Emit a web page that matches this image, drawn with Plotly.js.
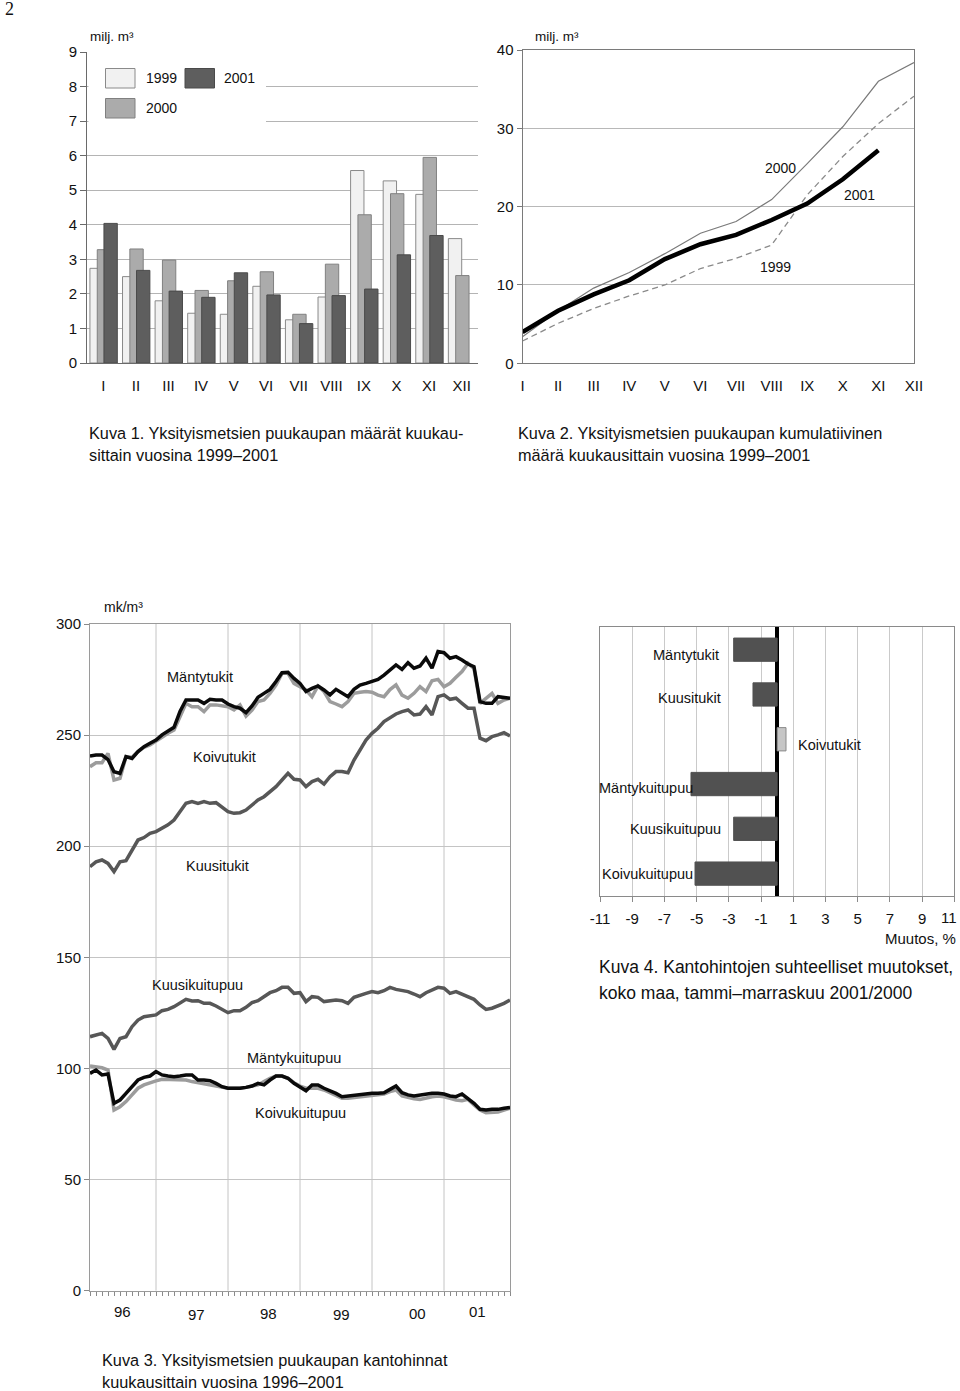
<!DOCTYPE html>
<html>
<head>
<meta charset="utf-8">
<script src="https://cdn.plot.ly/plotly-3.0.1.min.js"></script>
<style>html,body{margin:0;padding:0;background:#fff;}#chart{width:960px;height:1391px;}</style>
</head>
<body>
<div id="chart"></div>
<script>
// ---------- DATA ----------
// Kuva 1 / Kuva 2
const months = ['I','II','III','IV','V','VI','VII','VIII','IX','X','XI','XII'];
const vol1999 = [2.74, 2.50, 1.80, 1.44, 1.41, 2.22, 1.25, 1.91, 5.57, 5.27, 4.88, 3.60];
const vol2000 = [3.28, 3.30, 2.98, 2.10, 2.38, 2.64, 1.41, 2.86, 4.29, 4.90, 5.95, 2.53];
const vol2001 = [4.04, 2.68, 2.08, 1.90, 2.61, 1.97, 1.14, 1.95, 2.14, 3.13, 3.69];
const cum1999 = [2.85, 5.1, 7.0, 8.6, 10.0, 12.1, 13.4, 15.1, 21.5, 26.4, 30.6, 34.1];
const cum2000 = [3.4, 6.7, 9.6, 11.6, 14.0, 16.6, 18.1, 20.9, 25.5, 30.2, 36.0, 38.4];
const cum2001 = [4.0, 6.7, 8.8, 10.6, 13.3, 15.2, 16.4, 18.3, 20.4, 23.5, 27.2];

// Kuva 3 (monthly, 71 months)
const yearLabels = ['96','97','98','99','00','01'];
const yearStarts = [11, 23, 35, 47, 59];   // month index where a new year begins (grid lines)
const mantytukit = [240.6,241.0,241.0,239.0,233.5,232.8,240.3,239.5,242.6,244.8,246.3,247.8,250.1,251.6,253.5,260.6,265.8,265.8,265.8,264.3,266.1,265.8,265.8,264.0,262.8,262.1,260.1,263.1,267.0,268.8,270.6,274.1,278.1,278.3,275.5,273.3,269.6,271.0,272.1,270.3,268.1,270.6,268.8,267.3,270.6,272.5,273.3,274.1,275.1,277.0,279.3,281.6,279.6,282.6,280.1,281.1,284.6,280.1,287.6,287.1,284.6,285.3,283.8,282.0,280.8,265.1,264.3,264.3,267.3,267.0,266.6];
const koivutukit = [235.8,237.6,237.6,241.8,229.8,230.6,240.3,240.0,242.6,244.5,245.6,247.1,249.0,250.8,252.3,258.3,264.3,262.8,262.8,260.6,263.6,263.6,263.1,262.8,261.3,263.6,258.6,261.3,265.1,265.8,268.8,272.5,277.8,277.8,273.3,271.8,270.3,267.3,272.1,269.6,265.1,264.0,262.8,265.1,268.8,269.3,269.6,269.3,268.0,267.3,270.5,272.6,268.0,266.6,268.8,271.8,269.6,274.5,275.1,271.8,273.3,276.0,278.6,282.3,280.0,264.3,266.6,268.8,264.3,265.8,266.6];
const kuusitukit = [190.8,193.0,193.8,192.3,188.6,193.0,193.5,198.3,202.8,203.9,205.8,206.6,208.1,209.6,211.8,215.6,219.3,220.1,219.3,220.1,219.3,219.6,217.8,215.6,214.8,215.1,216.3,218.6,220.8,222.3,224.6,226.8,229.8,232.8,230.1,229.8,226.8,229.1,230.1,228.0,231.3,233.6,233.6,233.1,238.8,243.3,247.8,250.8,253.1,256.1,258.0,259.5,260.6,261.3,259.1,259.5,262.8,259.1,267.3,268.1,266.1,266.6,264.3,262.1,262.1,248.6,247.5,249.3,250.1,251.1,249.6];
const kuusikuitupuu = [114.3,115.1,115.8,113.5,108.6,113.5,114.3,118.8,121.8,123.3,123.8,124.1,126.0,126.6,127.8,129.3,131.1,130.4,130.5,129.3,129.3,128.1,126.6,125.1,126.0,126.0,127.5,129.6,130.5,132.3,134.1,135.0,136.5,136.5,133.8,134.1,130.1,132.3,132.0,130.1,130.5,130.8,130.5,129.3,132.0,133.1,133.8,134.6,134.1,135.0,136.5,135.6,135.0,134.6,133.5,132.3,134.1,135.3,136.5,136.1,133.8,134.6,133.5,132.3,131.1,128.6,126.6,127.1,128.1,129.3,130.8];
const mantykuitupuu = [97.8,99.3,97.1,97.5,84.3,85.8,88.8,91.8,94.8,96.0,96.6,98.6,97.1,96.6,96.3,96.6,97.1,97.1,94.8,94.8,94.5,93.3,91.8,91.1,91.1,91.1,91.5,92.1,93.3,92.6,94.8,96.6,96.6,95.6,93.3,91.5,90.0,92.6,92.6,91.1,90.0,88.8,87.3,87.6,88.1,88.4,88.5,88.8,88.8,89.1,90.6,92.1,89.1,88.1,87.6,88.1,88.5,88.8,88.8,88.5,87.6,87.3,88.5,86.6,84.3,81.6,81.3,81.6,81.6,82.1,82.5];
const koivukuitupuu = [101.1,100.8,100.3,99.3,81.3,82.8,85.1,88.1,91.1,92.6,93.6,94.4,95.1,95.1,94.8,94.8,94.8,94.1,93.6,93.0,92.6,92.1,91.5,91.1,91.1,91.1,91.5,92.1,92.6,94.1,95.6,96.6,96.6,95.6,93.6,92.1,91.1,91.1,91.1,90.3,89.1,87.6,86.6,86.6,86.9,87.3,87.6,87.6,88.1,88.5,89.6,90.3,87.6,86.9,86.4,86.1,86.9,87.3,87.6,87.3,86.6,85.8,85.5,86.1,83.6,81.3,80.1,80.1,80.4,81.3,82.1];

// Kuva 4
const assortments = ['Mäntytukit','Kuusitukit','Koivutukit','Mäntykuitupuu','Kuusikuitupuu','Koivukuitupuu'];
const changePct = [-2.7, -1.5, 0.55, -5.35, -2.7, -5.1];
const pctTicks = [-11, -9, -7, -5, -3, -1, 1, 3, 5, 7, 9, 11];

// ---------- HELPERS ----------
const W = 960, H = 1391;
const FONT = '"Liberation Sans", Arial, Helvetica, sans-serif';
const px = v => v / W;
const py = v => 1 - v / H;
function ann(text, x, y, xanchor, size, extra) {
  return Object.assign({
    text: text, x: px(x), y: py(y), xref: 'paper', yref: 'paper',
    xanchor: xanchor || 'left', yanchor: 'middle', showarrow: false,
    font: {family: FONT, size: size || 14.5, color: '#111'}
  }, extra || {});
}
const idx = arr => arr.map((_, i) => i);
const tickFont = {family: FONT, size: 15, color: '#111'};
const CAP = 16.3, CAP4 = 17.5, LAB = 14.5;

// ---------- TRACES ----------
const traces = [];
// Kuva 1 bars
traces.push({type: 'bar', x: idx(vol1999), y: vol1999, xaxis: 'x', yaxis: 'y', width: 0.41, offset: -0.41,
  marker: {color: '#f1f1f1', line: {color: '#8a8a8a', width: 1}}, hoverinfo: 'skip'});
traces.push({type: 'bar', x: idx(vol2000), y: vol2000, xaxis: 'x', yaxis: 'y', width: 0.41, offset: -0.185,
  marker: {color: '#ababab', line: {color: '#808080', width: 1}}, hoverinfo: 'skip'});
traces.push({type: 'bar', x: idx(vol2001), y: vol2001, xaxis: 'x', yaxis: 'y', width: 0.41, offset: 0.02,
  marker: {color: '#5e5e5e', line: {color: '#4a4a4a', width: 1}}, hoverinfo: 'skip'});

// Kuva 2 lines
traces.push({type: 'scatter', mode: 'lines', x: idx(cum2000), y: cum2000, xaxis: 'x2', yaxis: 'y2',
  line: {color: '#7a7a7a', width: 1.2}});
traces.push({type: 'scatter', mode: 'lines', x: idx(cum1999), y: cum1999, xaxis: 'x2', yaxis: 'y2',
  line: {color: '#8a8a8a', width: 1.3, dash: '6px,4px'}});
traces.push({type: 'scatter', mode: 'lines', x: idx(cum2001), y: cum2001, xaxis: 'x2', yaxis: 'y2',
  line: {color: '#000', width: 4.5}});

// Kuva 3 lines
const l3 = (data, color) => ({type: 'scatter', mode: 'lines', x: idx(data), y: data, xaxis: 'x3', yaxis: 'y3',
  line: {color: color, width: 3.5}});
traces.push(l3(koivutukit, '#9c9c9c'));
traces.push(l3(mantytukit, '#0a0a0a'));
traces.push(l3(kuusitukit, '#575757'));
traces.push(l3(koivukuitupuu, '#9c9c9c'));
traces.push(l3(mantykuitupuu, '#0a0a0a'));
traces.push(l3(kuusikuitupuu, '#575757'));

// Kuva 4 bars
traces.push({type: 'bar', orientation: 'h', y: assortments, x: changePct, xaxis: 'x4', yaxis: 'y4', width: 0.52,
  marker: {color: changePct.map(v => v >= 0 ? '#c6c6c6' : '#515151'),
           line: {color: changePct.map(v => v >= 0 ? '#8a8a8a' : '#515151'), width: 1}}, hoverinfo: 'skip'});

// ---------- LAYOUT ----------
const annotations = [
  ann('2', 3, 9, 'left', 18, {font: {family: '"Liberation Serif", serif', size: 18, color: '#111'}}),
  // Kuva 1
  ann('milj. m³', 88, 37, 'left', 13.5),
  ann('1999', 144, 78, 'left', 14),
  ann('2001', 222, 78, 'left', 14),
  ann('2000', 144, 108, 'left', 14),
  ann('Kuva 1. Yksityismetsien puukaupan määrät kuukau-', 87, 433, 'left', CAP),
  ann('sittain vuosina 1999–2001', 87, 455, 'left', CAP),
  // Kuva 2
  ann('milj. m³', 533, 37, 'left', 13.5),
  ann('2000', 780, 168, 'center', 14),
  ann('2001', 859, 195, 'center', 14),
  ann('1999', 775, 267, 'center', 14),
  ann('Kuva 2. Yksityismetsien puukaupan kumulatiivinen', 516, 433, 'left', CAP),
  ann('määrä kuukausittain vuosina 1999–2001', 516, 455, 'left', CAP),
  // Kuva 3
  ann('mk/m³', 102, 607, 'left', 14),
  ann('Mäntytukit', 200, 677, 'center', LAB),
  ann('Koivutukit', 224, 757, 'center', LAB),
  ann('Kuusitukit', 217, 866, 'center', LAB),
  ann('Kuusikuitupuu', 197, 985, 'center', LAB),
  ann('Mäntykuitupuu', 294, 1058, 'center', LAB),
  ann('Koivukuitupuu', 300, 1113, 'center', LAB),
  ann('Kuva 3. Yksityismetsien puukaupan kantohinnat', 100, 1360, 'left', CAP),
  ann('kuukausittain vuosina 1996–2001', 100, 1382, 'left', CAP),
  // Kuva 4
  ann('Mäntytukit', 721, 655, 'right', LAB),
  ann('Kuusitukit', 723, 698, 'right', LAB),
  ann('Koivutukit', 796, 745, 'left', LAB),
  ann('Mäntykuitupuu', 695, 788, 'right', LAB),
  ann('Kuusikuitupuu', 723, 829, 'right', LAB),
  ann('Koivukuitupuu', 695, 874, 'right', LAB),
  // last tick label of Kuva 4 sits at the page edge, so it is right-aligned to stay inside
  ann(String(pctTicks[pctTicks.length - 1]), 959, 917, 'right', 15),
  ann('Muutos, %', 958, 938, 'right', 15),
  ann('Kuva 4. Kantohintojen suhteelliset muutokset,', 597, 967, 'left', CAP4),
  ann('koko maa, tammi–marraskuu 2001/2000', 597, 993, 'left', CAP4)
];
// year labels for Kuva 3 (placed at mid-year positions)
const yearPos = [[123, 1311], [196, 1314], [268, 1313], [341, 1314], [417, 1313], [477, 1311]];
yearLabels.forEach((t, k) => annotations.push(ann(t, yearPos[k][0], yearPos[k][1], 'center', 15)));

const shapes = [
  // legend background for Kuva 1 (hides gridlines)
  {type: 'rect', xref: 'paper', yref: 'paper', x0: px(88.5), x1: px(266), y0: py(125), y1: py(57),
   fillcolor: '#fff', line: {width: 0}, layer: 'above'},
  {type: 'rect', xref: 'paper', yref: 'paper', x0: px(105.5), x1: px(135), y0: py(88), y1: py(68.5),
   fillcolor: '#f1f1f1', line: {color: '#8a8a8a', width: 1}, layer: 'above'},
  {type: 'rect', xref: 'paper', yref: 'paper', x0: px(185), x1: px(214.5), y0: py(88), y1: py(68.5),
   fillcolor: '#5e5e5e', line: {color: '#4a4a4a', width: 1}, layer: 'above'},
  {type: 'rect', xref: 'paper', yref: 'paper', x0: px(105.5), x1: px(135), y0: py(118), y1: py(98.5),
   fillcolor: '#ababab', line: {color: '#808080', width: 1}, layer: 'above'}
];
// year boundary grid lines of Kuva 3
yearStarts.forEach(m => shapes.push({type: 'line', xref: 'x3', yref: 'y3 domain', x0: m, x1: m, y0: 0, y1: 1,
  line: {color: '#c4c4c4', width: 1}, layer: 'below'}));

const layout = {
  width: W, height: H, margin: {l: 0, r: 0, t: 0, b: 0}, autosize: false,
  paper_bgcolor: '#fff', plot_bgcolor: 'rgba(0,0,0,0)', showlegend: false, barmode: 'overlay',
  font: {family: FONT, size: 15, color: '#111'},
  // Kuva 1
  xaxis: {anchor: 'y', domain: [px(87), px(478)], range: [-0.5, 11.5], tickmode: 'array', tickvals: idx(months), ticktext: months,
    showgrid: false, zeroline: false, showline: true, linecolor: '#6a6a6a', linewidth: 1, ticks: '',
    ticklabelstandoff: 9, tickfont: tickFont, fixedrange: true},
  yaxis: {anchor: 'x', domain: [py(363), py(52)], range: [0, 9], dtick: 1, tick0: 0, showgrid: true, gridcolor: '#b4b4b4',
    zeroline: false, showline: true, linecolor: '#6a6a6a', ticks: 'outside', ticklen: 6, tickcolor: '#6a6a6a',
    tickfont: tickFont, fixedrange: true},
  // Kuva 2
  xaxis2: {anchor: 'y2', domain: [px(522.5), px(914)], range: [0, 11], tickmode: 'array', tickvals: idx(months), ticktext: months,
    showgrid: false, zeroline: false, showline: true, mirror: true, linecolor: '#7a7a7a', ticks: '',
    ticklabelstandoff: 9, tickfont: tickFont, fixedrange: true},
  yaxis2: {anchor: 'x2', domain: [py(363.3), py(50)], range: [0, 40], dtick: 10, tick0: 0, showgrid: true, gridcolor: '#b8b8b8',
    zeroline: false, showline: true, mirror: true, linecolor: '#7a7a7a', ticks: 'outside', ticklen: 5,
    tickcolor: '#7a7a7a', tickfont: tickFont, fixedrange: true},
  // Kuva 3 (monthly ticks on the x axis)
  xaxis3: {anchor: 'y3', domain: [px(90), px(510)], range: [0, 70], tickmode: 'linear', tick0: 0, dtick: 1,
    showticklabels: false, ticks: 'outside', ticklen: 4, tickcolor: '#8a8a8a', showgrid: false, zeroline: false,
    showline: true, mirror: true, linecolor: '#9a9a9a', fixedrange: true},
  yaxis3: {anchor: 'x3', domain: [py(1290.7), py(624)], range: [0, 300], dtick: 50, tick0: 0, showgrid: true, gridcolor: '#c4c4c4',
    zeroline: false, showline: true, mirror: true, linecolor: '#9a9a9a', ticks: 'outside', ticklen: 5,
    tickcolor: '#8a8a8a', tickfont: tickFont, fixedrange: true},
  // Kuva 4
  xaxis4: {anchor: 'y4', domain: [px(600), px(954.3)], range: [-11, 11], tickmode: 'array', tickvals: pctTicks,
    ticktext: pctTicks.map((v, k) => k === pctTicks.length - 1 ? '' : String(v)),
    showgrid: true, gridcolor: '#cacaca',
    zeroline: true, zerolinecolor: '#000', zerolinewidth: 3.5, showline: true, mirror: true, linecolor: '#8a8a8a',
    ticks: 'outside', ticklen: 5, tickcolor: '#8a8a8a', ticklabelstandoff: 4, tickfont: tickFont, fixedrange: true},
  yaxis4: {anchor: 'x4', domain: [py(896), py(627.3)], type: 'category', categoryorder: 'array', categoryarray: assortments,
    autorange: 'reversed', showticklabels: false, showgrid: false, ticks: '', zeroline: false,
    showline: true, mirror: true, linecolor: '#8a8a8a', fixedrange: true},
  annotations: annotations,
  shapes: shapes
};

Plotly.newPlot('chart', traces, layout, {staticPlot: true, displayModeBar: false});
</script>
</body>
</html>
